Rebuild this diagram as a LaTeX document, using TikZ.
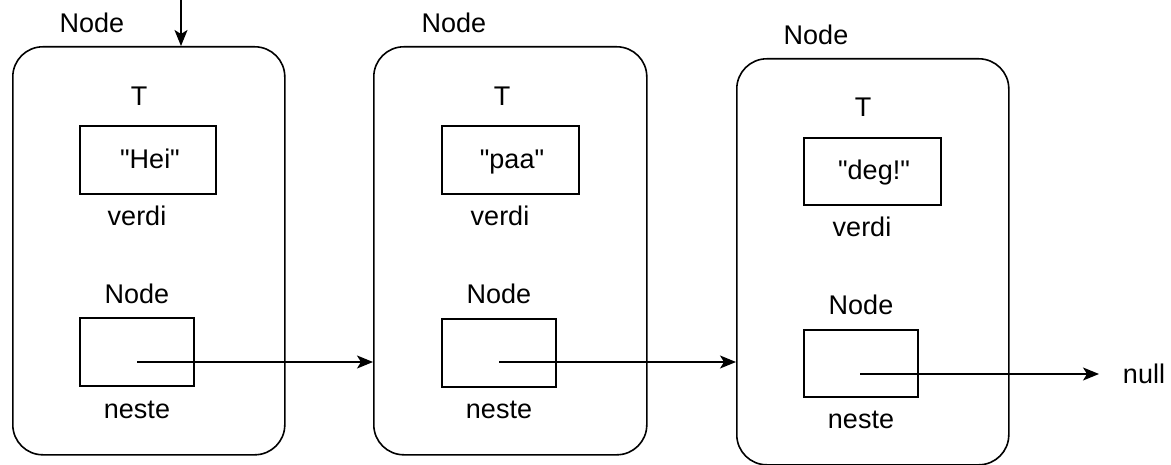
\documentclass[tikz,border=0pt]{standalone}
\usepackage{fontspec}
\setmainfont{Liberation Sans}[Ligatures=TeXOff]
\usetikzlibrary{arrows.meta}
\begin{document}
\begin{tikzpicture}[x=1pt,y=-1pt,
  every node/.style={font=\fontsize{27}{31}\selectfont, inner sep=0pt},
  txt/.style={anchor=base},
  nodebox/.style={draw, line width=1.6pt, rounded corners=30pt, anchor=north west},
  field/.style={draw, line width=1.6pt, anchor=north west},
  link/.style={line width=1.6pt, -{Stealth[length=16pt,width=13pt,inset=4pt]}}]
\useasboundingbox (0,0) rectangle (1171,465);

% first list node
\node[nodebox, minimum width=272pt, minimum height=408pt] (n1) at (12,46) {};
\node[txt] (n1name) at (92,33) {Node};
\node[txt] (n1t) at (139,106) {T};
\node[field, minimum width=136pt, minimum height=68pt] (n1val) at (79,125) {};
\node[txt] (n1str) at (150,169) {"Hei"};
\node[txt] (n1verdi) at (137,226) {verdi};
\node[txt] (n1node) at (137,304) {Node};
\node[field, minimum width=114pt, minimum height=68pt] (n1next) at (79,317) {};
\node[txt] (n1neste) at (137,418) {neste};

% second list node
\node[nodebox, minimum width=273pt, minimum height=408pt] (n2) at (373,46) {};
\node[txt] (n2name) at (454,33) {Node};
\node[txt] (n2t) at (502,106) {T};
\node[field, minimum width=137pt, minimum height=68pt] (n2val) at (441,125) {};
\node[txt] (n2str) at (512,169) {"paa"};
\node[txt] (n2verdi) at (500,226) {verdi};
\node[txt] (n2node) at (499,304) {Node};
\node[field, minimum width=114pt, minimum height=68pt] (n2next) at (441,318) {};
\node[txt] (n2neste) at (499,418) {neste};

% third list node
\node[nodebox, minimum width=272pt, minimum height=406pt] (n3) at (736,58) {};
\node[txt] (n3name) at (816,45) {Node};
\node[txt] (n3t) at (863,117) {T};
\node[field, minimum width=137pt, minimum height=67pt] (n3val) at (803,137) {};
\node[txt] (n3str) at (874,180) {"deg!"};
\node[txt] (n3verdi) at (862,237) {verdi};
\node[txt] (n3node) at (861,315) {Node};
\node[field, minimum width=114pt, minimum height=67pt] (n3next) at (803,329) {};
\node[txt] (n3neste) at (861,428) {neste};

\node[txt] (null) at (1144,383) {null};

% references
\coordinate (head) at (181,0);
\coordinate (p1) at (137,362);
\coordinate (p2) at (499,362);
\coordinate (p3) at (860,374);
\coordinate (end) at (1099,374);

\draw[link] (head) -- (head |- n1.north);
\draw[link] (p1) -- (p1 -| n2.west);
\draw[link] (p2) -- (p2 -| n3.west);
\draw[link] (p3) -- (end);
\end{tikzpicture}
\end{document}
